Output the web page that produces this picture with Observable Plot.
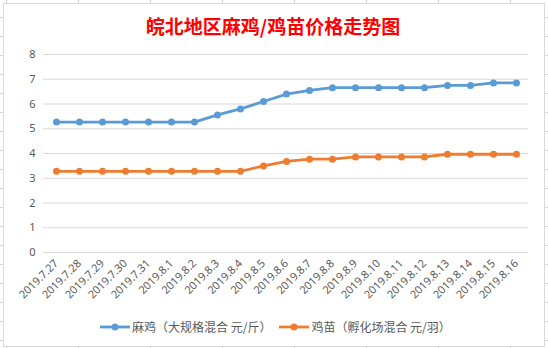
<!DOCTYPE html>
<html>
<head>
<meta charset="utf-8">
<script src="https://cdn.jsdelivr.net/npm/d3@7"></script>
<script src="https://cdn.jsdelivr.net/npm/@observablehq/plot@0.6"></script>
<style>
  html, body { margin: 0; padding: 0; }
  body {
    width: 548px; height: 348px; position: relative; overflow: hidden;
    background-color: #fff;
    background-image:
      linear-gradient(to right, #d4d4d4 0 1px, transparent 1px),
      linear-gradient(to bottom, #d4d4d4 0 1px, transparent 1px);
    background-size: 72px 100%, 100% 19px;
    background-position: 6px 0, 0 -2px;
    font-family: "Noto Sans", "Noto Sans CJK SC", sans-serif;
  }
  #box {
    position: absolute; left: 3px; top: 3px; width: 542px; height: 344px;
    box-sizing: border-box; border: 1px solid #d9d9d9; background: #fff;
  }
  #title {
    position: absolute; left: 0; width: 546px; top: 15px; text-align: center;
    font-family: "Noto Sans CJK SC", sans-serif; font-size: 19px; line-height: 22px;
    color: #ff0000; font-weight: bold;
  }
  #chart { position: absolute; left: 0; top: 0; }
  #legend {
    position: absolute; left: 100px; top: 318px; display: flex; align-items: center;
    font-family: "Noto Sans CJK SC", sans-serif; font-size: 12px; color: #595959; line-height: 18px;
  }
  .item { display: flex; align-items: center; margin-right: 8px; }
  .item svg { margin-right: 2px; }
</style>
</head>
<body>
<div id="box"></div>
<div id="chart"></div>
<div id="title">皖北地区麻鸡/鸡苗价格走势图</div>
<div id="legend"></div>
<script>
const dates = ["2019.7.27","2019.7.28","2019.7.29","2019.7.30","2019.7.31","2019.8.1","2019.8.2","2019.8.3","2019.8.4","2019.8.5","2019.8.6","2019.8.7","2019.8.8","2019.8.9","2019.8.10","2019.8.11","2019.8.12","2019.8.13","2019.8.14","2019.8.15","2019.8.16"];
const maji = [5.27,5.27,5.27,5.27,5.27,5.27,5.27,5.56,5.8,6.1,6.4,6.55,6.66,6.66,6.66,6.66,6.66,6.75,6.75,6.85,6.85];
const jimiao = [3.28,3.28,3.28,3.28,3.28,3.28,3.28,3.28,3.28,3.5,3.68,3.77,3.77,3.86,3.86,3.86,3.86,3.97,3.97,3.97,3.97];
const seriesNames = ["麻鸡（大规格混合 元/斤）", "鸡苗（孵化场混合 元/羽）"];
const colors = ["#5b9bd5", "#ed7d31"];
const yTicks = [0,1,2,3,4,5,6,7,8];

const data = [];
dates.forEach((d, i) => {
  data.push({date: d, value: maji[i], series: seriesNames[0]});
  data.push({date: d, value: jimiao[i], series: seriesNames[1]});
});

const plot = Plot.plot({
  width: 548,
  height: 348,
  marginLeft: 43,
  marginRight: 20,
  marginTop: 54,
  marginBottom: 96,
  style: {background: "transparent", color: "#595959", fontSize: "10px", fontFamily: "'Noto Sans', 'Noto Sans CJK SC', sans-serif"},
  x: {type: "point", domain: dates, padding: 0.5},
  y: {domain: [0, 8]},
  color: {domain: seriesNames, range: colors},
  marks: [
    Plot.gridY(yTicks, {stroke: "#d9d9d9", strokeOpacity: 1, strokeWidth: 1}),
    Plot.axisY(yTicks, {tickSize: 0, tickPadding: 8, label: null, fontSize: 11}),
    Plot.axisX({tickRotate: -45, tickSize: 0, tickPadding: 9, label: null, fontSize: 11}),
    Plot.line(data, {x: "date", y: "value", z: "series", stroke: "series", strokeWidth: 2.8}),
    Plot.dot(data, {x: "date", y: "value", fill: "series", r: 3.5, stroke: null})
  ]
});
document.getElementById("chart").appendChild(plot);

const legend = document.getElementById("legend");
seriesNames.forEach((name, i) => {
  const item = document.createElement("div");
  item.className = "item";
  item.innerHTML = `<svg width="30" height="10"><line x1="0" x2="30" y1="5" y2="5" stroke="${colors[i]}" stroke-width="2.8"/><circle cx="15" cy="5" r="3.5" fill="${colors[i]}"/></svg><span>${name}</span>`;
  legend.appendChild(item);
});
</script>
</body>
</html>
